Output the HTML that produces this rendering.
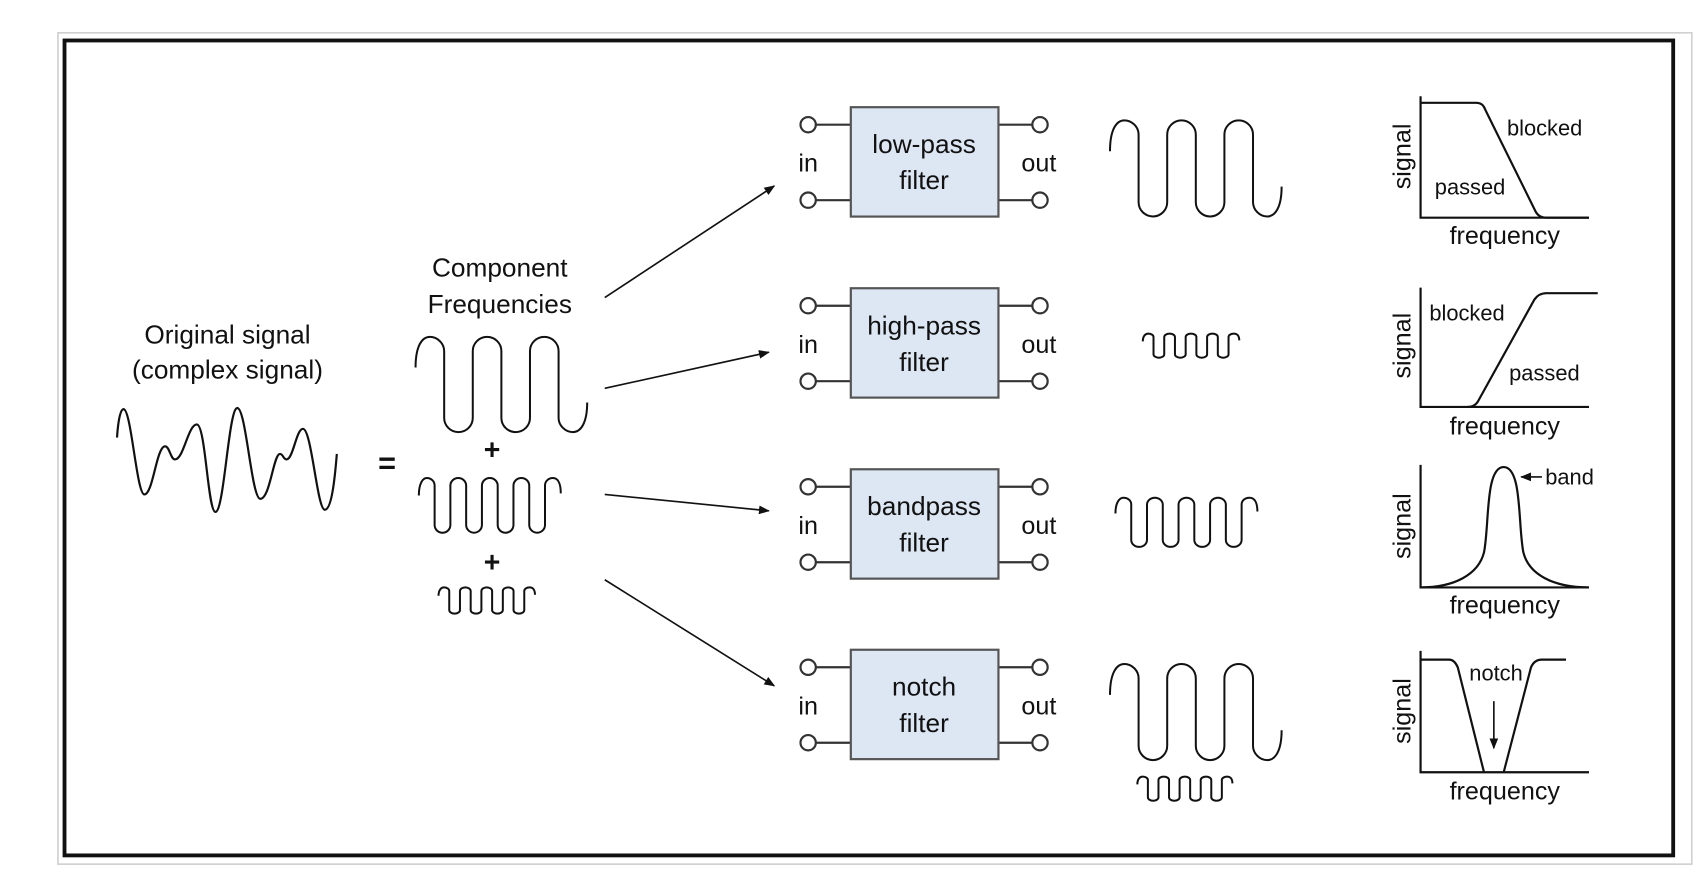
<!DOCTYPE html>
<html><head><meta charset="utf-8"><style>
html,body{margin:0;padding:0;background:#fff;}
svg{display:block;}
text{font-family:"Liberation Sans",Arial,sans-serif;fill:#111;}
</style></head><body>
<svg width="1706" height="874" viewBox="0 0 1560 799" preserveAspectRatio="none" xmlns="http://www.w3.org/2000/svg">
<defs>
<marker id="ah" markerWidth="10" markerHeight="8" refX="9" refY="4" orient="auto" markerUnits="userSpaceOnUse">
<path d="M0 0 L10 4 L0 8 Z" fill="#111"/></marker>
<path id="big" d="M0 28 C0 8 6 0 13 0 C20 0 26 6 26 13 L26 74 A13 13 0 0 0 52 74 L52 13 A13 13 0 0 1 78 13 L78 74 A13 13 0 0 0 104 74 L104 13 A13 13 0 0 1 130 13 L130 74 C130 81 136 87 143 87 C150 87 156 79 156 60" fill="none" stroke="#111" stroke-width="2" vector-effect="non-scaling-stroke"/>
<path id="med" d="M0 16 C0 4 4 0 7 0 C11 0 14 3 14 7 L14 43 A7 7 0 0 0 28 43 L28 7 A7 7 0 0 1 42 7 L42 43 A7 7 0 0 0 56 43 L56 7 A7 7 0 0 1 70 7 L70 43 A7 7 0 0 0 84 43 L84 7 A7 7 0 0 1 98 7 L98 43 A7 7 0 0 0 112 43 L112 7 C112 3 115 0 119 0 C123 0 126 4 126 14" fill="none" stroke="#111" stroke-width="2" vector-effect="non-scaling-stroke"/>
</defs>
<rect x="53" y="30" width="1494" height="760" fill="none" stroke="#d0d0d0" stroke-width="1.5"/>
<rect x="59" y="37" width="1471" height="745" fill="none" stroke="#111" stroke-width="3.5"/>

<text x="208" y="314" font-size="24" text-anchor="middle">Original signal</text>
<text x="208" y="346" font-size="24" text-anchor="middle">(complex signal)</text>
<path d="M107 400 C108 385 110 374 113 374 C120 374 125 452 132 452 C140 452 143 408 151 408 C155 408 156 420 160 420 C168 420 172 388 180 388 C188 388 190 468 197 468 C205 468 209 373 217 373 C225 373 230 456 238 456 C247 456 250 415 256 415 C259 415 259 420 262 420 C268 420 271 392 277 392 C285 392 290 466 297 466 C303 466 306 440 308 415" fill="none" stroke="#111" stroke-width="2"/>
<text x="354" y="433" font-size="28" font-weight="bold" text-anchor="middle">=</text>

<text x="457" y="253" font-size="24" text-anchor="middle">Component</text>
<text x="457" y="286" font-size="24" text-anchor="middle">Frequencies</text>
<use href="#big" transform="translate(380,308) scale(1.006,1)"/>
<text x="450" y="420" font-size="26" font-weight="bold" text-anchor="middle">+</text>
<use href="#med" transform="translate(383,437) scale(1.03,1)"/>
<text x="450" y="523" font-size="26" font-weight="bold" text-anchor="middle">+</text>
<use href="#med" transform="translate(401,537) scale(0.7,0.48)"/>

<g stroke="#111" stroke-width="1.5" marker-end="url(#ah)">
<line x1="553" y1="272" x2="708" y2="170"/>
<line x1="553" y1="355" x2="703" y2="322"/>
<line x1="553" y1="452" x2="703" y2="467"/>
<line x1="553" y1="530" x2="708" y2="627"/>
</g>

<g id="f1">
<g stroke="#333" stroke-width="2" fill="#fff">
<line x1="746" y1="114" x2="778" y2="114"/><line x1="746" y1="183" x2="778" y2="183"/>
<line x1="913" y1="114" x2="944" y2="114"/><line x1="913" y1="183" x2="944" y2="183"/>
<circle cx="739" cy="114" r="7"/><circle cx="739" cy="183" r="7"/>
<circle cx="951" cy="114" r="7"/><circle cx="951" cy="183" r="7"/>
<rect x="778" y="98" width="135" height="100" fill="#dde6f3" stroke="#555"/>
</g>
<text x="739" y="157" font-size="23" text-anchor="middle">in</text>
<text x="950" y="157" font-size="23" text-anchor="middle">out</text>
</g>
<use href="#f1" transform="translate(0,165.5)"/>
<use href="#f1" transform="translate(0,331)"/>
<use href="#f1" transform="translate(0,496)"/>
<g font-size="24" text-anchor="middle">
<text x="845" y="140">low-pass</text><text x="845" y="173">filter</text>
<text x="845" y="306">high-pass</text><text x="845" y="339">filter</text>
<text x="845" y="471">bandpass</text><text x="845" y="504">filter</text>
<text x="845" y="636">notch</text><text x="845" y="669">filter</text>
</g>

<use href="#big" transform="translate(1015,110) scale(1.006,1.01)"/>
<use href="#med" transform="translate(1045,305) scale(0.7,0.44)"/>
<use href="#med" transform="translate(1020,455) scale(1.03,0.9)"/>
<use href="#big" transform="translate(1015,607) scale(1.006,1.01)"/>
<use href="#med" transform="translate(1040,710) scale(0.69,0.44)"/>

<g fill="none" stroke="#111" stroke-width="2">
<path d="M1299 88 L1299 199 L1453 199"/>
<path d="M1299 94 L1350 94 Q1356 94 1358 100 L1404 193 Q1407 199 1414 199 L1453 199"/>
<path d="M1299 263 L1299 372 L1453 372"/>
<path d="M1342 372 Q1349 372 1352 366 L1403 274 Q1407 268 1414 268 L1461 268"/>
<path d="M1299 425 L1299 537 L1453 537"/>
<path d="M1299 537 C1330 537 1352 525 1357 505 C1362 480 1358 427 1375 427 C1392 427 1388 480 1393 505 C1398 525 1420 537 1453 537"/>
<path d="M1299 595 L1299 706 L1453 706"/>
<path d="M1299 603 L1325 603 Q1330 603 1333 610 L1357 706 M1375 706 L1400 610 Q1403 603 1410 603 L1432 603"/>
</g>
<g stroke="#111" stroke-width="1.5" marker-end="url(#ah)">
<line x1="1410" y1="436" x2="1391" y2="436"/>
<line x1="1366" y1="641" x2="1366" y2="684"/>
</g>
<g font-size="20">
<text x="1378" y="124">blocked</text>
<text x="1312" y="178">passed</text>
<text x="1307" y="293">blocked</text>
<text x="1380" y="348">passed</text>
<text x="1413" y="443">band</text>
<text x="1368" y="622" text-anchor="middle">notch</text>
</g>
<g font-size="23" text-anchor="middle">
<text x="1376" y="223">frequency</text>
<text x="1376" y="397">frequency</text>
<text x="1376" y="561">frequency</text>
<text x="1376" y="731">frequency</text>
</g>
<g font-size="23" text-anchor="middle">
<text transform="translate(1290,143) rotate(-90)">signal</text>
<text transform="translate(1290,316) rotate(-90)">signal</text>
<text transform="translate(1290,481) rotate(-90)">signal</text>
<text transform="translate(1290,650) rotate(-90)">signal</text>
</g>
</svg>
</body></html>
